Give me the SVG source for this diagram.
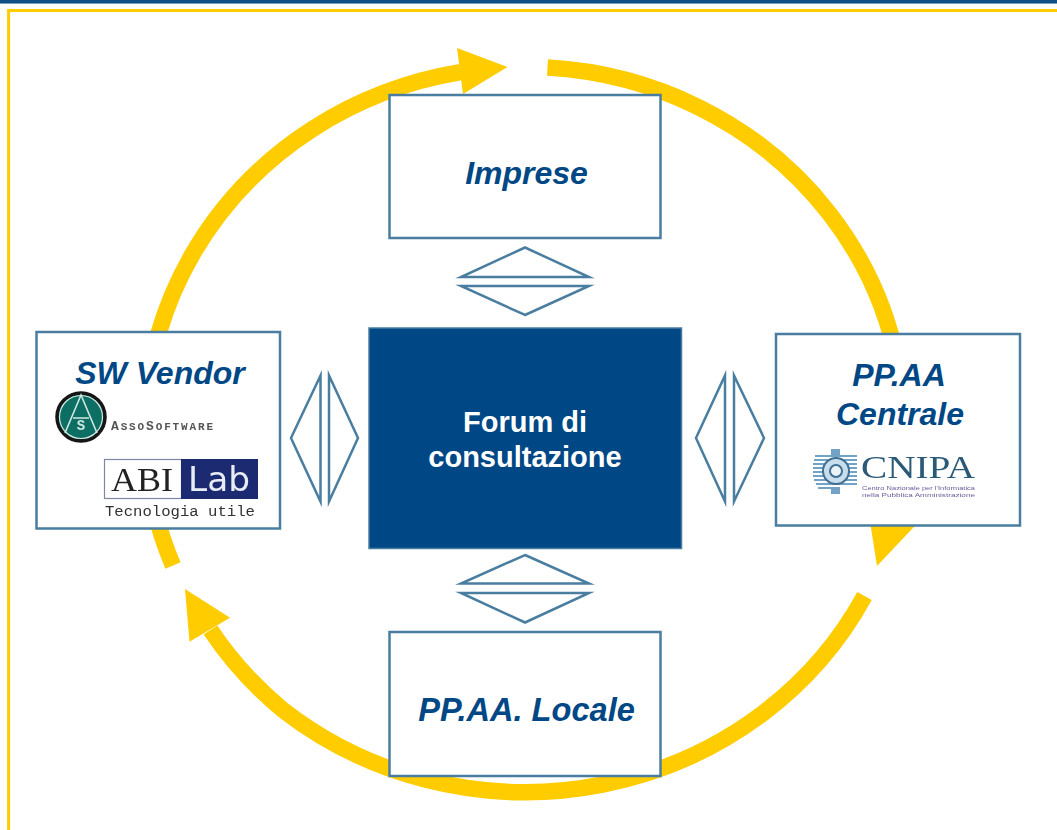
<svg xmlns="http://www.w3.org/2000/svg" width="1057" height="830" viewBox="0 0 1057 830">
<style>
.arc{fill:none;stroke:#FFCC00;stroke-width:16.5}
.head{fill:#FFCC00}
.box{fill:#fff;stroke:#4A7EA0;stroke-width:2.5}
.dia{fill:#fff;stroke:#4A7EA0;stroke-width:2.5;stroke-linejoin:miter;stroke-miterlimit:10}
.lbl{font-family:"Liberation Sans",Arial,sans-serif;font-weight:bold;font-style:italic;font-size:32px;fill:#004785;text-anchor:middle}
.ctr{font-family:"Liberation Sans",Arial,sans-serif;font-weight:bold;font-size:29px;fill:#fff;text-anchor:middle}
.mono{font-family:"Liberation Mono",monospace}
.serif{font-family:"Liberation Serif",serif}
</style>
<defs><filter id="soft" x="-5%" y="-5%" width="110%" height="110%"><feGaussianBlur stdDeviation="0.6"/></filter></defs>
<rect width="1057" height="830" fill="#fff"/>
<g id="frame">
<rect x="0" y="0" width="1057" height="3" fill="#0F4F86"/>
<rect x="0" y="3" width="1057" height="1" fill="#7F9FB6"/>
<path d="M8.6 830V10.4H1057" fill="none" stroke="#FFCC00" stroke-width="3"/>
</g>
<g id="connectors">
<path class="arc" d="M173 565.5A380 362.5 0 0 1 460.5 72.2"/>
<polygon class="head" points="507.5,67 457,48 463,94"/>
<path class="arc" d="M547.5 67.6A379 362.5 0 0 1 893.3 515"/>
<polygon class="head" points="877,566 868.5,512 928,512"/>
<path class="arc" d="M864.5 596A382 362.5 0 0 1 283 710A382 362.5 0 0 1 210.5 630"/>
<polygon class="head" points="185,589 230,617.7 189.5,641.7"/>
<g id="exchange-top">
<polygon class="dia" points="525,247.5 589,277 461,277"/>
<polygon class="dia" points="525,315 589,286 461,286"/>
</g>
<g id="exchange-bottom">
<polygon class="dia" points="525,555 589,583.5 461,583.5"/>
<polygon class="dia" points="525,622.5 589,593 461,593"/>
</g>
<g id="exchange-left">
<polygon class="dia" points="291,438 320.5,375.5 320.5,501.5"/>
<polygon class="dia" points="358,438 329,375.5 329,501.5"/>
</g>
<g id="exchange-right">
<polygon class="dia" points="696,438 725,375.5 725,501.5"/>
<polygon class="dia" points="764,438 734,375.5 734,501.5"/>
</g>
</g>
<g id="imprese">
<rect class="box" x="389.5" y="95" width="271" height="143"/>
<text class="lbl" x="526.5" y="184">Imprese</text>
</g>
<g id="forum">
<rect x="369" y="328" width="312.5" height="220.5" fill="#004785" stroke="#4A7EA0" stroke-width="1.5"/>
<text class="ctr" x="525" y="432">Forum di</text>
<text class="ctr" x="525" y="467">consultazione</text>
</g>
<g id="locale">
<rect class="box" x="389.5" y="632" width="271" height="144"/>
<text class="lbl" x="526.5" y="721" style="font-size:32.6px">PP.AA. Locale</text>
</g>
<g id="vendor">
<rect class="box" x="36.5" y="332" width="243.5" height="196.5"/>
<text class="lbl" x="160" y="384">SW Vendor</text>
<g filter="url(#soft)">
<circle cx="81" cy="417" r="24" fill="#0F6E64" stroke="#161616" stroke-width="3.5"/>
<circle cx="81" cy="417" r="21.5" fill="none" stroke="#cfe8e2" stroke-width="1.2"/>
<path d="M65 433L81 395L97 433M73 418H89" fill="none" stroke="#cfe8e2" stroke-width="1.6"/>
<text class="mono" x="81" y="430" font-size="14" font-weight="bold" fill="#cfe8e2" text-anchor="middle">S</text>
<text class="mono" x="111" y="430" font-size="11" font-weight="bold" fill="#555" textLength="102" lengthAdjust="spacing"><tspan font-size="13">A</tspan>SSO<tspan font-size="13">S</tspan>OFTWARE</text>
<rect x="104.5" y="459.5" width="77" height="39" fill="#fff" stroke="#7E86A4" stroke-width="1.2"/>
<rect x="181" y="459" width="77" height="40" fill="#1C2C72"/>
<text class="serif" x="142" y="491" font-size="34.5" fill="#222" text-anchor="middle" textLength="62" lengthAdjust="spacingAndGlyphs">ABI</text>
<text x="219" y="491" font-family="DejaVu Sans,sans-serif" font-size="33" fill="#E8ECF4" text-anchor="middle" textLength="62" lengthAdjust="spacingAndGlyphs">Lab</text>
<text class="mono" x="105" y="515.5" font-size="15.5" fill="#333" textLength="150" lengthAdjust="spacingAndGlyphs">Tecnologia utile</text>
</g>
</g>
<g id="centrale">
<rect class="box" x="776" y="334" width="244" height="191.5"/>
<text class="lbl" x="899" y="386">PP.AA</text>
<text class="lbl" x="900" y="425">Centrale</text>
<g filter="url(#soft)">
<path d="M815 456H857M814 460H857M813 464H857M813 468H857M813 472H857M813 476H857M814 480H857M816 484H857M818 488H840" fill="none" stroke="#6FA3C6" stroke-width="2"/>
<path d="M831 449H840V455H831ZM831 489H840V494H831Z" fill="#6FA3C6"/>
<circle cx="836" cy="471" r="13" fill="#C8DEEC" stroke="#3F6F92" stroke-width="2"/>
<circle cx="836" cy="471" r="6" fill="#EAF3F8" stroke="#3F6F92" stroke-width="2"/>
<text class="serif" x="861" y="478" font-size="31" fill="#2A5A78" textLength="114" lengthAdjust="spacingAndGlyphs">CNIPA</text>
<text x="862" y="490" font-family="Liberation Sans,sans-serif" font-size="5.5" fill="#6A5A9A" textLength="113" lengthAdjust="spacingAndGlyphs">Centro Nazionale per l'Informatica</text>
<text x="862" y="496.5" font-family="Liberation Sans,sans-serif" font-size="5.5" fill="#6A5A9A" textLength="113" lengthAdjust="spacingAndGlyphs">nella Pubblica Amministrazione</text>
</g>
</g>
</svg>
